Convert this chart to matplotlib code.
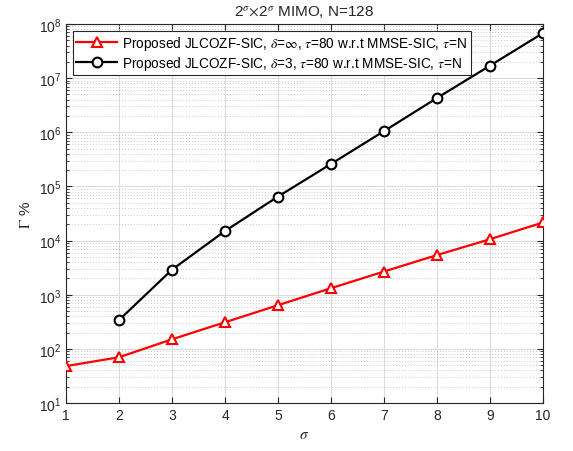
import matplotlib
matplotlib.use("Agg")
import matplotlib.pyplot as plt
from matplotlib.ticker import LogLocator, NullFormatter, FixedLocator

plt.rcParams['font.family'] = ['Liberation Sans', 'DejaVu Sans']
plt.rcParams['mathtext.fontset'] = 'stix'

sigma = [1, 2, 3, 4, 5, 6, 7, 8, 9, 10]
gamma_inf = [48, 70, 150, 310, 640, 1320, 2680, 5400, 10600, 21600]
sigma_d3 = [2, 3, 4, 5, 6, 7, 8, 9, 10]
gamma_d3 = [340, 2900, 15000, 65000, 2.6e5, 1.05e6, 4.3e6, 1.7e7, 6.8e7]

label_inf = r'Proposed JLCOZF-SIC, $\delta$=$\infty$, $\tau$=80 w.r.t MMSE-SIC, $\tau$=N'
label_d3 = r'Proposed JLCOZF-SIC, $\delta$=3, $\tau$=80 w.r.t MMSE-SIC, $\tau$=N'

fig = plt.figure(figsize=(5.73, 4.52), dpi=100)
ax = fig.add_axes([66/573, 1-404/452, (543-66)/573, (404-25)/452])

ax.semilogy(sigma, gamma_inf, color='#ff0000', lw=1.6, marker='^', ms=7,
            mfc='white', mec='#ff0000', mew=1.5, label=label_inf, zorder=3)
ax.semilogy(sigma_d3, gamma_d3, color='black', lw=1.6, marker='o', ms=7,
            mfc='white', mec='black', mew=1.5, label=label_d3, zorder=3)

ax.set_xlim(1, 10)
ax.set_ylim(10, 1e8)
ax.set_xticks(sigma)
ax.yaxis.set_major_locator(FixedLocator([10**k for k in range(1, 9)]))
ax.yaxis.set_minor_locator(LogLocator(base=10, subs=range(2, 10), numticks=20))
ax.yaxis.set_minor_formatter(NullFormatter())

ax.grid(True, which='major', color='#dcdcdc', lw=0.8, ls='-')
ax.grid(True, which='minor', axis='y', color='#c8c8c8', lw=0.7, ls=(0, (1, 2)))
ax.set_axisbelow(True)

ax.tick_params(which='both', direction='in', top=True, right=True,
               labelsize=10, colors='#262626', length=4)
ax.tick_params(which='minor', length=2)
for sp in ax.spines.values():
    sp.set_color('#262626')
    sp.set_linewidth(0.8)

ax.set_xlabel(r'$\sigma$', fontsize=11, color='#262626')
ax.set_ylabel(r'$\Gamma$ %', fontsize=11, color='#262626')
ax.set_title(r'2$^{\sigma}$$\times$2$^{\sigma}$ MIMO, N=128', fontsize=11,
             color='#262626', pad=6)

leg = ax.legend(loc='upper left', fontsize=9.8, frameon=True, fancybox=False,
                edgecolor='#262626', framealpha=1, borderpad=0.25,
                handlelength=3.0, labelspacing=0.1, borderaxespad=0.5,
                handletextpad=0.4)
leg.get_frame().set_linewidth(0.8)

fig.savefig('out.png', dpi=100)
